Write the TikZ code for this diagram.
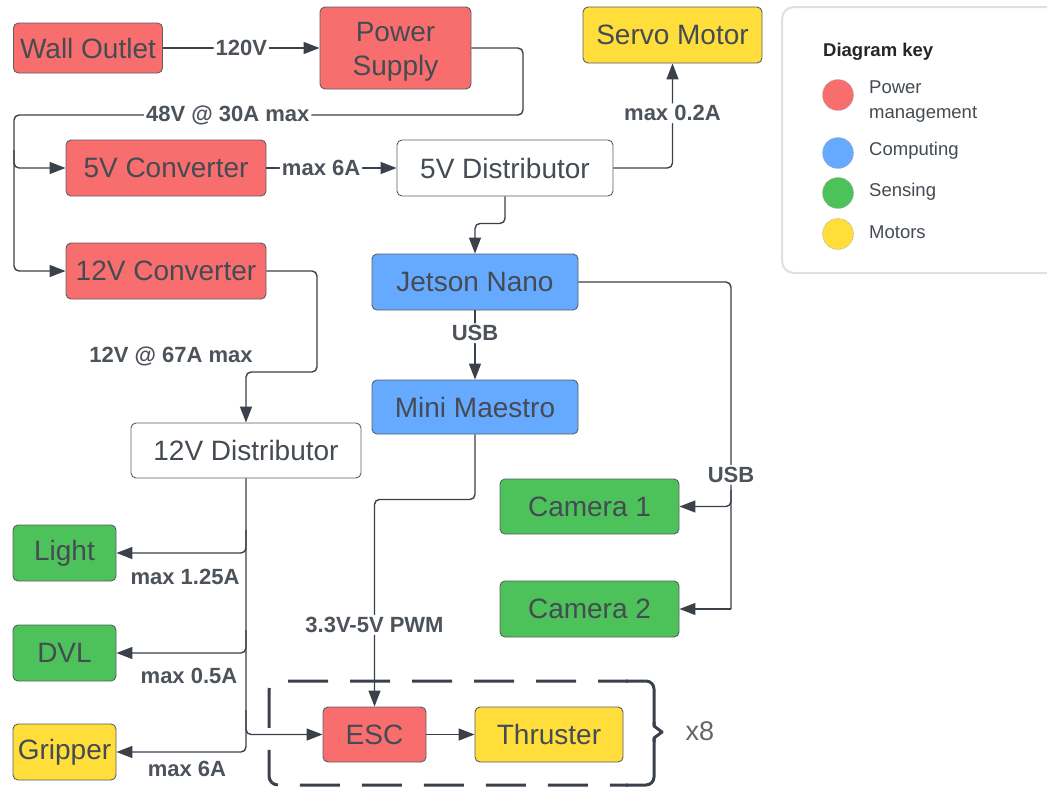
\documentclass[tikz,border=0pt]{standalone}
\usepackage{fontspec}
\setmainfont{Liberation Sans}
\usetikzlibrary{arrows.meta}
\definecolor{pred}{HTML}{F86E6E}
\definecolor{pblue}{HTML}{66AAFF}
\definecolor{pgreen}{HTML}{4EC25A}
\definecolor{pyellow}{HTML}{FFDE3C}
\definecolor{bordc}{HTML}{5A5E63}
\definecolor{txtc}{HTML}{454B53}
\definecolor{linec}{HTML}{3A414A}
\definecolor{lblc}{HTML}{4D535B}
\definecolor{keyc}{HTML}{DDE1E6}
\tikzset{
  blk/.style={draw=bordc, line width=0.9pt, rounded corners=5pt, text=txtc,
    font=\fontsize{28}{34}\selectfont, inner sep=0pt, align=center},
  redb/.style={blk, fill=pred},
  blueb/.style={blk, fill=pblue},
  greenb/.style={blk, fill=pgreen},
  yellowb/.style={blk, fill=pyellow},
  whiteb/.style={blk, fill=white},
  conn/.style={draw=linec, line width=1.4pt, rounded corners=5pt,
    -{Triangle[length=16pt,width=12pt]}},
  plain/.style={draw=linec, line width=1.4pt, rounded corners=5pt},
  lbl/.style={fill=white, text=lblc, font=\bfseries\fontsize{22}{26}\selectfont, inner sep=2pt},
  flbl/.style={text=lblc, font=\bfseries\fontsize{22}{26}\selectfont, inner sep=0pt},
  keydot/.style={circle, minimum size=31pt, inner sep=0pt, draw=bordc!60, line width=0.6pt, densely dotted},
  keytxt/.style={anchor=west, text=txtc, font=\fontsize{18.5}{25}\selectfont, inner sep=0pt, align=left},
}
\begin{document}
\begin{tikzpicture}[x=1pt,y=-1pt]
\useasboundingbox (0,0) rectangle (1047,787);
\fill[white] (0,0) rectangle (1047,787);

% key
\draw[draw=keyc, line width=2pt, rounded corners=12pt] (782,7) rectangle (1070,273);
\node[keytxt, font=\bfseries\fontsize{18.5}{22}\selectfont, text=black!85] (keyt) at (823,52) {Diagram key};
\node[keydot, fill=pred] (k1) at (838,95) {};
\node[keydot, fill=pblue] (k2) at (838,153) {};
\node[keydot, fill=pgreen] (k3) at (838,193) {};
\node[keydot, fill=pyellow] (k4) at (838,234) {};
\node[keytxt] (kt1) at (869,101.5) {Power\\management};
\node[keytxt] (kt2) at (869,151) {Computing};
\node[keytxt] (kt3) at (869,192) {Sensing};
\node[keytxt] (kt4) at (869,232) {Motors};

% blocks
\node[redb, minimum width=149pt, minimum height=50pt] (wall) at (88,48) {Wall Outlet};
\node[redb, minimum width=151pt, minimum height=82pt] (ps) at (395.5,48) {};
\node[text=txtc, font=\fontsize{28}{34}\selectfont, inner sep=0pt, align=center] (pst) at (395.5,52) {Power\\Supply};
\node[yellowb, minimum width=179pt, minimum height=56pt] (servo) at (672.5,35) {Servo Motor};
\node[redb, minimum width=200pt, minimum height=56pt] (conv5) at (166,168) {5V Converter};
\node[whiteb, minimum width=216pt, minimum height=56pt] (dist5) at (505,168) {5V Distributor};
\node[redb, minimum width=200pt, minimum height=56pt] (conv12) at (166,271) {12V Converter};
\node[blueb, minimum width=206pt, minimum height=56pt] (jetson) at (475,282) {Jetson Nano};
\node[blueb, minimum width=206pt, minimum height=54pt] (maestro) at (475,407) {Mini Maestro};
\node[whiteb, minimum width=230pt, minimum height=55pt] (dist12) at (246,450.5) {12V Distributor};
\node[greenb, minimum width=179pt, minimum height=55pt] (cam1) at (589.5,506.5) {Camera 1};
\node[greenb, minimum width=179pt, minimum height=56pt] (cam2) at (589.5,609) {Camera 2};
\node[greenb, minimum width=103pt, minimum height=56pt] (light) at (64.5,553) {Light};
\node[greenb, minimum width=103pt, minimum height=56pt] (dvl) at (64.5,653) {DVL};
\node[yellowb, minimum width=103pt, minimum height=56pt] (gripper) at (64.5,752) {Gripper};
\node[redb, minimum width=103pt, minimum height=55pt] (esc) at (374.5,734.5) {ESC};
\node[yellowb, minimum width=148pt, minimum height=55pt] (thr) at (549,734.5) {Thruster};

% dashed group with brace
\draw[draw=linec, line width=3pt, dash pattern=on 40pt off 22pt, dash phase=10pt, rounded corners=9pt]
  (628,681) -- (269,681) -- (269,785) -- (628,785);
\draw[draw=linec, line width=3pt, line join=round, rounded corners=8pt]
  (626,681) -- (654,681) -- (654,726);
\draw[draw=linec, line width=3pt, line join=round]
  (654,722) -- (654,726) -- (662,732) -- (654,738) -- (654,742);
\draw[draw=linec, line width=3pt, line join=round, rounded corners=8pt]
  (654,738) -- (654,785) -- (626,785);
\node[text=black!60, font=\fontsize{27}{30}\selectfont, inner sep=0pt] (x8) at (700,731) {x8};

% bend coordinates
\coordinate (b1) at (523,115);
\coordinate (b2) at (14,115);
\coordinate (b3) at (14,150);
\coordinate (j2) at (731,609);
\coordinate (j1) at (731,490);
\coordinate (c1) at (317,372);
\coordinate (s1) at (246,530);
\coordinate (s2) at (246,630);
\coordinate (s3) at (246,710);

% connectors
\draw[conn] (wall) -- node[lbl]{120V} (ps);
\draw[conn] (ps.east) -| (b1) -- node[lbl, pos=0.58]{48V @ 30A max} (b2) |- (conv5.west);
\draw[conn] (b3) |- (conv12.west);
\draw[conn] (conv5) -- node[lbl, pos=0.42]{max 6A} (dist5);
\draw[conn] (dist5.east) -| node[lbl, pos=0.762]{max 0.2A} (servo.south);
\draw[conn] (dist5.south) -- ++(0,27) -| (jetson.north);
\draw[conn] (jetson) -- node[lbl, pos=0.33]{USB} (maestro);
\draw[plain] (jetson.east) -| node[lbl, pos=0.795]{USB} (j2);
\draw[conn] (j2) -- (cam2.east);
\draw[conn] (j1) |- (cam1.east);
\draw[conn] (maestro.south) -- ++(0,65) -| node[lbl, pos=0.803]{3.3V-5V PWM} (esc.north);
\draw[conn] (conv12.east) -| (c1) -| (dist12.north);
\draw[conn] (dist12.south) |- (gripper.east);
\draw[conn] (s1) |- (light.east);
\draw[conn] (s2) |- (dvl.east);
\draw[conn] (s3) |- (esc.west);
\draw[conn] (esc) -- (thr);

% free labels
\node[flbl] (l12) at (171,356) {12V @ 67A max};
\node[flbl] (lL) at (185,577) {max 1.25A};
\node[flbl] (lD) at (189,676) {max 0.5A};
\node[flbl] (lG) at (187,769) {max 6A};
\end{tikzpicture}
\end{document}
